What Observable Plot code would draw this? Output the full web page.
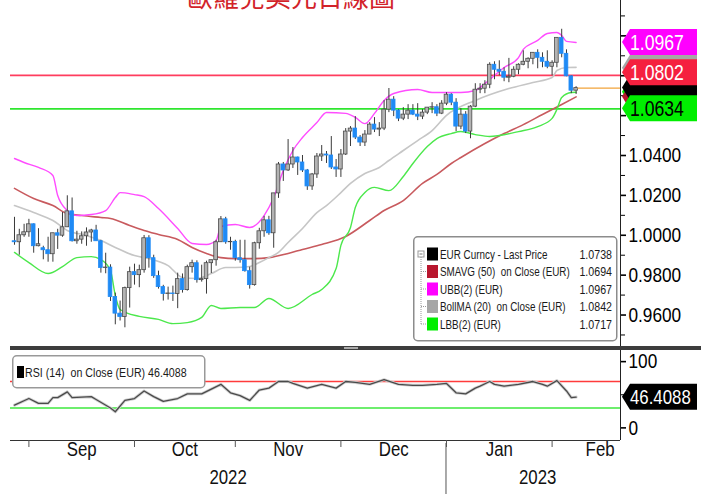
<!DOCTYPE html>
<html><head><meta charset="utf-8">
<script src="https://cdn.jsdelivr.net/npm/d3@7"></script>
<script src="https://cdn.jsdelivr.net/npm/@observablehq/plot@0.6"></script>
<style>
body{margin:0;background:#fff;}
#wrap{position:relative;width:701px;height:494px;overflow:hidden;}
#wrap svg{position:absolute;left:0;}
</style></head><body><div id="wrap"></div>
<script>
// ---------- DATA ----------
const title = "歐羅兌美元日線圖";
const dates = [
"2022-08-26","2022-08-29","2022-08-30","2022-08-31",
"2022-09-01","2022-09-02","2022-09-05","2022-09-06","2022-09-07","2022-09-08","2022-09-09","2022-09-12","2022-09-13","2022-09-14","2022-09-15","2022-09-16","2022-09-19","2022-09-20","2022-09-21","2022-09-22","2022-09-23","2022-09-26","2022-09-27","2022-09-28","2022-09-29","2022-09-30",
"2022-10-03","2022-10-04","2022-10-05","2022-10-06","2022-10-07","2022-10-10","2022-10-11","2022-10-12","2022-10-13","2022-10-14","2022-10-17","2022-10-18","2022-10-19","2022-10-20","2022-10-21","2022-10-24","2022-10-25","2022-10-26","2022-10-27","2022-10-28","2022-10-31",
"2022-11-01","2022-11-02","2022-11-03","2022-11-04","2022-11-07","2022-11-08","2022-11-09","2022-11-10","2022-11-11","2022-11-14","2022-11-15","2022-11-16","2022-11-17","2022-11-18","2022-11-21","2022-11-22","2022-11-23","2022-11-24","2022-11-25","2022-11-28","2022-11-29","2022-11-30",
"2022-12-01","2022-12-02","2022-12-05","2022-12-06","2022-12-07","2022-12-08","2022-12-09","2022-12-12","2022-12-13","2022-12-14","2022-12-15","2022-12-16","2022-12-19","2022-12-20","2022-12-21","2022-12-22","2022-12-23","2022-12-26","2022-12-27","2022-12-28","2022-12-29","2022-12-30",
"2023-01-02","2023-01-03","2023-01-04","2023-01-05","2023-01-06","2023-01-09","2023-01-10","2023-01-11","2023-01-12","2023-01-13","2023-01-16","2023-01-17","2023-01-18","2023-01-19","2023-01-20","2023-01-23","2023-01-24","2023-01-25","2023-01-26","2023-01-27","2023-01-30","2023-01-31",
"2023-02-01","2023-02-02","2023-02-03","2023-02-06","2023-02-07"];
// open, high, low, close
const ohlc = [
[0.9970,1.0090,0.9950,0.9965],[0.9965,1.0030,0.9900,1.0000],[1.0000,1.0055,0.9990,1.0015],[1.0015,1.0080,0.9990,1.0055],
[1.0055,1.0057,0.9910,0.9945],[0.9945,1.0033,0.9942,0.9955],[0.9935,0.9945,0.9877,0.9925],[0.9925,0.9990,0.9865,0.9905],[0.9905,1.0010,0.9865,1.0010],[1.0010,1.0030,0.9929,0.9998],[0.9998,1.0114,0.9990,1.0040],[1.0040,1.0198,1.0040,1.0120],[1.0120,1.0187,0.9966,0.9970],[0.9970,1.0020,0.9955,0.9978],[0.9978,1.0017,0.9955,0.9995],[0.9995,1.0037,0.9945,1.0014],[1.0014,1.0030,0.9965,1.0024],[1.0024,1.0050,0.9970,0.9970],[0.9970,0.9975,0.9810,0.9836],[0.9836,0.9910,0.9807,0.9838],[0.9838,0.9852,0.9668,0.9690],[0.9690,0.9710,0.9551,0.9607],[0.9607,0.9670,0.9570,0.9590],[0.9590,0.9740,0.9536,0.9735],[0.9735,0.9840,0.9635,0.9815],[0.9815,0.9855,0.9750,0.9800],
[0.9800,0.9850,0.9737,0.9825],[0.9825,0.9999,0.9810,0.9985],[0.9985,0.9998,0.9835,0.9885],[0.9885,0.9900,0.9784,0.9795],[0.9795,0.9820,0.9730,0.9740],[0.9740,0.9749,0.9670,0.9705],[0.9705,0.9740,0.9675,0.9708],[0.9708,0.9745,0.9668,0.9705],[0.9705,0.9810,0.9632,0.9780],[0.9780,0.9806,0.9710,0.9725],[0.9725,0.9850,0.9720,0.9840],[0.9840,0.9875,0.9810,0.9860],[0.9860,0.9872,0.9760,0.9775],[0.9775,0.9850,0.9765,0.9780],[0.9780,0.9870,0.9705,0.9860],[0.9860,0.9875,0.9808,0.9875],[0.9875,0.9975,0.9845,0.9965],[0.9965,1.0094,0.9965,1.0080],[1.0080,1.0090,0.9955,0.9965],[0.9965,0.9990,0.9925,0.9967],[0.9967,0.9975,0.9870,0.9885],
[0.9885,0.9975,0.9860,0.9875],[0.9875,0.9975,0.9815,0.9820],[0.9820,0.9840,0.9730,0.9750],[0.9750,0.9965,0.9745,0.9960],[0.9960,1.0035,0.9930,1.0020],[1.0020,1.0095,0.9990,1.0075],[1.0075,1.0095,1.0000,1.0010],[1.0010,1.0210,0.9935,1.0210],[1.0210,1.0365,1.0185,1.0355],[1.0355,1.0365,1.0270,1.0325],[1.0325,1.0480,1.0320,1.0355],[1.0355,1.0440,1.0335,1.0390],[1.0390,1.0392,1.0300,1.0365],[1.0365,1.0400,1.0315,1.0325],[1.0325,1.0330,1.0225,1.0245],[1.0245,1.0310,1.0225,1.0305],[1.0305,1.0410,1.0285,1.0395],[1.0395,1.0450,1.0370,1.0405],[1.0405,1.0420,1.0360,1.0400],[1.0400,1.0495,1.0330,1.0340],[1.0340,1.0380,1.0290,1.0330],[1.0330,1.0430,1.0290,1.0405],
[1.0405,1.0535,1.0400,1.0520],[1.0520,1.0545,1.0445,1.0535],[1.0535,1.0595,1.0480,1.0490],[1.0490,1.0500,1.0445,1.0465],[1.0465,1.0525,1.0445,1.0505],[1.0505,1.0565,1.0505,1.0555],[1.0555,1.0590,1.0515,1.0530],[1.0530,1.0565,1.0495,1.0535],[1.0535,1.0675,1.0525,1.0630],[1.0630,1.0736,1.0615,1.0680],[1.0680,1.0695,1.0595,1.0625],[1.0625,1.0630,1.0570,1.0585],[1.0585,1.0640,1.0575,1.0605],[1.0605,1.0655,1.0580,1.0625],[1.0625,1.0655,1.0600,1.0605],[1.0605,1.0660,1.0575,1.0595],[1.0595,1.0630,1.0580,1.0615],[1.0615,1.0640,1.0605,1.0640],[1.0640,1.0665,1.0610,1.0642],[1.0642,1.0655,1.0595,1.0610],[1.0610,1.0675,1.0605,1.0660],[1.0660,1.0715,1.0650,1.0705],
[1.0705,1.0710,1.0650,1.0665],[1.0665,1.0685,1.0520,1.0545],[1.0545,1.0635,1.0530,1.0605],[1.0605,1.0620,1.0510,1.0520],[1.0520,1.0650,1.0484,1.0645],[1.0645,1.0760,1.0640,1.0730],[1.0730,1.0760,1.0710,1.0735],[1.0735,1.0775,1.0710,1.0755],[1.0755,1.0865,1.0735,1.0855],[1.0855,1.0870,1.0780,1.0830],[1.0830,1.0875,1.0800,1.0820],[1.0820,1.0840,1.0770,1.0790],[1.0790,1.0887,1.0765,1.0795],[1.0795,1.0845,1.0790,1.0830],[1.0830,1.0860,1.0805,1.0855],[1.0855,1.0925,1.0850,1.0870],[1.0870,1.0890,1.0835,1.0885],[1.0885,1.0915,1.0855,1.0915],[1.0915,1.0930,1.0835,1.0890],[1.0890,1.0915,1.0840,1.0870],[1.0870,1.0925,1.0835,1.0845],[1.0845,1.0875,1.0800,1.0865],
[1.0865,1.0990,1.0840,1.0990],[1.0990,1.1033,1.0890,1.0910],[1.0910,1.0930,1.0795,1.0797],[1.0797,1.0800,1.0710,1.0725],[1.0725,1.0745,1.0706,1.0738]];

// indicator lines (trading-day index -> value)
const ubbDay = [0,2,5,8,9,11,13,16,19,21,22,25,27,30,34,37,40,42,43,46,49,52,54,56,58,60,63,65,69,71,73,75,77,79,84,87,93,96,98,100,102,105,106,109,111,113,114,115,117];
const ubbVal = [1.0385,1.0365,1.0340,1.0300,1.0199,1.0124,1.0099,1.0104,1.0124,1.0189,1.0214,1.0204,1.0194,1.0134,1.0034,0.9959,0.9954,0.9974,1.0044,1.0054,1.0039,1.0099,1.0189,1.0325,1.0425,1.0490,1.0565,1.0616,1.0611,1.0591,1.0560,1.0611,1.0676,1.0711,1.0731,1.0716,1.0716,1.0726,1.0761,1.0801,1.0841,1.0891,1.0932,1.0977,1.1012,1.1017,1.1002,1.0972,1.0967];
const lbbDay = [0,3,7,10,13,16,18,20,21,22,26,30,33,36,39,41,43,47,50,53,57,62,64,67,68,70,71,73,75,78,81,83,86,88,91,93,96,99,101,105,109,112,113,114,116,117];
const lbbVal = [0.9914,0.9863,0.9808,0.9843,0.9888,0.9893,0.9878,0.9823,0.9698,0.9628,0.9593,0.9578,0.9557,0.9562,0.9588,0.9648,0.9633,0.9638,0.9638,0.9683,0.9633,0.9703,0.9728,0.9833,0.9949,1.0039,1.0139,1.0214,1.0240,1.0224,1.0295,1.0360,1.0445,1.0485,1.0510,1.0520,1.0505,1.0495,1.0500,1.0520,1.0545,1.0586,1.0631,1.0691,1.0716,1.0717];
const bollDay = [0,4,8,11,15,18,21,25,28,32,35,38,41,44,46,49,51,53,55,57,60,63,65,68,70,73,76,78,81,84,87,90,96,103,108,112,113,115,117];
const bollVal = [1.0149,1.0114,1.0074,1.0024,0.9999,0.9974,0.9939,0.9898,0.9883,0.9848,0.9788,0.9783,0.9808,0.9838,0.9838,0.9843,0.9863,0.9888,0.9914,0.9964,1.0034,1.0114,1.0149,1.0214,1.0260,1.0310,1.0340,1.0375,1.0425,1.0475,1.0525,1.0601,1.0676,1.0736,1.0766,1.0791,1.0826,1.0841,1.0842];
const smaDay = [0,4,8,11,14,18,20,24,27,30,34,37,40,43,46,50,53,57,60,64,69,74,77,81,85,88,91,93,98,102,106,110,114,117];
const smaVal = [1.0235,1.0184,1.0149,1.0109,1.0099,1.0089,1.0084,1.0049,1.0024,1.0004,0.9979,0.9939,0.9909,0.9888,0.9883,0.9883,0.9888,0.9909,0.9929,0.9954,0.9994,1.0074,1.0124,1.0174,1.0260,1.0305,1.0360,1.0390,1.0460,1.0510,1.0555,1.0606,1.0656,1.0694];
const rsiDay = [0,3,5,7,8,9,11,12,16,17,20,21,23,25,27,29,31,34,36,39,41,43,45,47,49,51,53,55,57,58,61,64,67,69,71,74,77,80,83,85,88,90,92,94,96,97,99,100,102,105,108,110,111,113,115,116,117];
const rsiVal = [34.3,44.3,37.1,37.1,45.7,45.7,54.3,45.7,47.1,42.9,30,24.3,41.4,44.3,55.7,47.1,40,44.3,51.4,51.4,58.6,65.7,52.9,48.6,41.4,57.1,60,70,70,67.1,60,65.7,60,70,68.6,65.7,72.9,65.7,64.3,64.3,65.7,67.1,52.9,51.4,60,62.9,70,65.7,62.9,65.7,70,65.7,62.9,71.4,55.7,45.7,46.4088];

const resistance = 1.0802, support = 1.0634, lastPrice = 1.0738;
const priceTicks = [0.96,0.98,1.00,1.02,1.04];
const priceHiddenTicks = [1.06,1.08,1.10];
const priceMinorTicks = [0.95,0.97,0.99,1.01,1.03,1.05,1.07,1.09,1.11];
const rsiTicks = [0,100];
const monthEndIdx = [3,25,46,68,90,112];
const monthLabels = ["Sep","Oct","Nov","Dec","Jan","Feb"];
const monthLabelIdx = [14,35.5,57,79,101,122];
const yearLabels = ["2022","2023"];
const yearLabelIdx = [44.5,109];
const yearBreakIdx = 90;

const legendNames = ["EUR Curncy - Last Price","SMAVG (50)  on Close (EUR)","UBB(2) (EUR)","BollMA (20)  on Close (EUR)","LBB(2) (EUR)"];
const legendVals = ["1.0738","1.0694","1.0967","1.0842","1.0717"];
const legendColors = ["#000000","#b8162e","#ff00ff","#a6a6a6","#00ee00"];
const rsiLegend = "RSI (14)  on Close (EUR) 46.4088";
const rsiLast = 46.4088;

// ---------- CHART ----------
const FONT = '"Liberation Sans",Arial,sans-serif';
function squeeze(node, f) {
  const w = node.getComputedTextLength();
  if (w > 0) { node.setAttribute("textLength", (w * f).toFixed(1)); node.setAttribute("lengthAdjust", "spacingAndGlyphs"); }
  return w * f;
}
function narrow(root, f = 0.82) {
  d3.select(root).selectAll("text:not(.fixed)").each(function() { squeeze(this, f); });
}
// narrow text by a transform (start-anchored at x,y)
function narrowText(parent, x, y, f, str, size, color, anchor = "start") {
  return parent.append("text").attr("class", "fixed").attr("x", 0).attr("y", 0).attr("dy", "0.36em")
    .attr("text-anchor", anchor).attr("transform", `translate(${x},${y}) scale(${f},1)`)
    .style("font-family", FONT).style("font-size", size + "px").style("white-space", "pre")
    .attr("fill", color).text(str);
}
const xDomain = [-0.833, 126.25];
const candles = dates.map((d,i)=>({i, date:d, o:ohlc[i][0], h:ohlc[i][1], l:ohlc[i][2], c:ohlc[i][3]}));
const series = (days, vals) => days.map((d,k)=>({i:d, v:vals[k]}));
const ubb = series(ubbDay, ubbVal), lbb = series(lbbDay, lbbVal), boll = series(bollDay, bollVal), sma = series(smaDay, smaVal), rsiData = series(rsiDay, rsiVal);
const up = d => d.c >= d.o;

const wrap = d3.select("#wrap");

const price = Plot.plot({
  width: 701, height: 346, marginLeft: 10, marginRight: 81, marginTop: 0, marginBottom: 0,
  x: {domain: xDomain, axis: null},
  y: {domain: [0.94422, 1.11773], axis: null},
  style: {fontFamily: FONT, background: "transparent", overflow: "visible"},
  marks: [
    Plot.ruleY([resistance], {stroke: "#ff3d5e", strokeWidth: 1.6}),
    Plot.ruleY([support], {stroke: "#2fe62f", strokeWidth: 1.6}),
    Plot.line(sma, {x: "i", y: "v", stroke: "#c85a5e", strokeWidth: 1.6, curve: "monotone-x"}),
    Plot.line(boll, {x: "i", y: "v", stroke: "#c6c6c6", strokeWidth: 1.6, curve: "monotone-x"}),
    Plot.line(ubb, {x: "i", y: "v", stroke: "#ff4cff", strokeWidth: 1.4, curve: "monotone-x"}),
    Plot.line(lbb, {x: "i", y: "v", stroke: "#4ce84c", strokeWidth: 1.4, curve: "monotone-x"}),
    Plot.ruleX(candles, {x: "i", y1: "l", y2: "h", stroke: "#3a3a3a", strokeWidth: 1}),
    Plot.rect(candles, {x1: d => d.i - 0.38, x2: d => d.i + 0.38, y1: "o", y2: "c",
      fill: d => up(d) ? "#b3b3b3" : "#1f8af5", stroke: d => up(d) ? "#4a4a4a" : "#1f8af5", strokeWidth: 0.8}),
    Plot.ruleY([lastPrice], {x1: 117.4, x2: xDomain[1], stroke: "#f2a33a", strokeWidth: 1.4}),
    Plot.ruleX([xDomain[1]], {stroke: "#222", strokeWidth: 1}),
    Plot.axisY({anchor: "right", ticks: priceMinorTicks, tickSize: 4, tickFormat: () => "", label: null}),
    Plot.axisY({anchor: "right", ticks: priceHiddenTicks, tickSize: 5, strokeWidth: 1.6, tickFormat: () => "", label: null}),
    Plot.axisY({anchor: "right", ticks: priceTicks, tickSize: 5, tickPadding: 3, strokeWidth: 1.6,
      tickFormat: d3.format(".4f"), fontSize: 21, fontFamily: FONT, label: null})
  ]
});
d3.select(price).style("top", "0px");
wrap.node().appendChild(price);

const sx = price.scale("x"), sy = price.scale("y");
const axisX = sx.apply(xDomain[1]);
function tag(svg, yc, fill, color, label, size = 21.5) {
  const g = d3.select(svg).append("g");
  g.append("path").attr("d", `M${axisX+2},${yc} L${axisX+10},${yc-13} L697,${yc-13} L697,${yc+13} L${axisX+10},${yc+13} Z`).attr("fill", fill);
  if (label) narrowText(g, axisX + 10, yc, 0.82, label, size, color);
}
// hidden tags (covered by the ones drawn afterwards)
tag(price, sy.apply(1.0717), "#00ee00", "#000", null);
tag(price, sy.apply(1.0694), "#b8162e", "#fff", null);
tag(price, sy.apply(1.0842) + 1, "#a6a6a6", "#fff", null);
tag(price, sy.apply(lastPrice), "#000", "#fff", null);
tag(price, sy.apply(resistance) - 2.5, "#f5203f", "#fff", "1.0802");
tag(price, sy.apply(support), "#00ee00", "#000", "1.0634");
tag(price, sy.apply(1.0967), "#ff00ff", "#fff", "1.0967");
narrow(price);

const rsi = Plot.plot({
  width: 701, height: 144, marginLeft: 10, marginRight: 81, marginTop: 0, marginBottom: 54,
  x: {domain: xDomain, axis: null},
  y: {domain: [-19.06, 116.8], axis: null},
  style: {fontFamily: FONT, background: "transparent", overflow: "visible"},
  marks: [
    Plot.ruleY([70], {stroke: "#ff3b3b", strokeWidth: 1.6}),
    Plot.ruleY([30], {stroke: "#3ee83e", strokeWidth: 1.6}),
    Plot.line(rsiData, {x: "i", y: "v", stroke: "#d0d0d0", strokeWidth: 3}),
    Plot.line(rsiData, {x: "i", y: "v", stroke: "#4a4a4a", strokeWidth: 1.3}),
    Plot.ruleX([xDomain[1]], {stroke: "#222", strokeWidth: 1}),
    Plot.ruleY([-19.06], {stroke: "#333", strokeWidth: 1}),
    Plot.axisY({anchor: "right", ticks: [50], tickSize: 4, tickFormat: () => "", label: null}),
    Plot.axisY({anchor: "right", ticks: rsiTicks, tickSize: 5, tickPadding: 3, strokeWidth: 1.6,
      fontSize: 21, fontFamily: FONT, label: null}),
    Plot.axisX({anchor: "bottom", ticks: monthEndIdx, tickSize: 7, tickFormat: () => "", label: null, stroke: "#555"}),
    Plot.text(monthLabels, {x: (d, i) => monthLabelIdx[i], frameAnchor: "bottom", dy: 15, text: d => d, fontSize: 20.5, fontFamily: FONT, fill: "#111"}),
    Plot.text(yearLabels, {x: (d, i) => yearLabelIdx[i], frameAnchor: "bottom", dy: 43, text: d => d, fontSize: 20.5, fontFamily: FONT, fill: "#111"})
  ]
});
d3.select(rsi).style("top", "350px");
wrap.node().appendChild(rsi);
const rx = rsi.scale("x"), ry = rsi.scale("y");
d3.select(rsi).append("line").attr("x1", rx.apply(yearBreakIdx)).attr("x2", rx.apply(yearBreakIdx))
  .attr("y1", 93).attr("y2", 144).attr("stroke", "#555").attr("stroke-width", 1);
tag(rsi, ry.apply(rsiLast), "#000", "#fff", "46.4088", 20.5);
narrow(rsi);

// ---------- overlay: title, separator, legends ----------
const ov = wrap.append("svg").attr("width", 701).attr("height", 494).style("top", "0px").style("pointer-events", "none");
ov.append("rect").attr("x", 10).attr("y", 346).attr("width", 691).attr("height", 4).attr("fill", "#3d3d3d");
ov.append("rect").attr("x", 344).attr("y", 347).attr("width", 14).attr("height", 2).attr("fill", "#aaa");

// main legend
const lg = ov.append("g");
lg.append("rect").attr("x", 413.75).attr("y", 236.75).attr("width", 203).attr("height", 104).attr("rx", 4)
  .attr("fill", "#fff").attr("stroke", "#8c8c8c").attr("stroke-width", 1.5);
const rowY = k => 254 + k * 17.5;
lg.append("line").attr("x1", 421).attr("x2", 421).attr("y1", rowY(0) + 3).attr("y2", rowY(4))
  .attr("stroke", "#999").attr("stroke-dasharray", "1,1");
lg.append("rect").attr("x", 418).attr("y", rowY(0) - 3).attr("width", 6).attr("height", 6).attr("fill", "#fff").attr("stroke", "#999");
lg.append("line").attr("x1", 419.5).attr("x2", 422.5).attr("y1", rowY(0)).attr("y2", rowY(0)).attr("stroke", "#777");
legendNames.forEach((name, k) => {
  const y = rowY(k);
  if (k > 0) lg.append("line").attr("x1", 421).attr("x2", 427).attr("y1", y).attr("y2", y).attr("stroke", "#999").attr("stroke-dasharray", "1,1");
  lg.append("rect").attr("x", 427).attr("y", y - 6.5).attr("width", 11).attr("height", 13).attr("fill", legendColors[k]);
  narrowText(lg, 440, y, 0.76, name, 13, "#1a1a1a");
  narrowText(lg, 612, y, 0.82, legendVals[k], 13, "#1a1a1a", "end");
});

// RSI legend
const rl = ov.append("g");
rl.append("rect").attr("x", 12.75).attr("y", 355.75).attr("width", 192).attr("height", 32).attr("rx", 4)
  .attr("fill", "#fff").attr("stroke", "#999").attr("stroke-width", 1.5);
rl.append("rect").attr("x", 17).attr("y", 366).attr("width", 7).attr("height", 12).attr("fill", "#000");
narrowText(rl, 25, 372, 0.82, rsiLegend, 13, "#1a1a1a");

// title (partly above the page top, as in the reference)
ov.append("text").attr("x", 291).attr("y", 7).attr("text-anchor", "middle")
  .style("font-family", '"Noto Sans CJK TC","Noto Sans CJK SC",sans-serif').style("font-size", "26px")
  .attr("fill", "#d2232a").text(title);
</script></body></html>
